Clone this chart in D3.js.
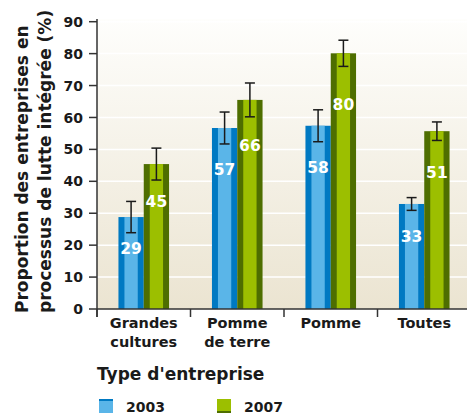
<!DOCTYPE html>
<html><head><meta charset="utf-8">
<script src="https://cdn.jsdelivr.net/npm/d3@7"></script>
<style>
html,body{margin:0;padding:0;background:#fff;}
text{font-family:"DejaVu Sans",Verdana,sans-serif;font-weight:bold;}
</style></head>
<body><svg id="c" width="467" height="415"></svg>
<script>
const categories = [["Grandes","cultures"],["Pomme","de terre"],["Pomme"],["Toutes"]];
const series = ["2003","2007"];
const values2003 = [28.8, 56.7, 57.4, 32.9];
const values2007 = [45.4, 65.5, 80.1, 55.7];
const errors2003 = [4.9, 5.0, 5.0, 2.0];
const errors2007 = [5.0, 5.3, 4.1, 2.9];
const labels2003 = ["29","57","58","33"];
const labels2007 = ["45","66","80","51"];
const yTicks = [0,10,20,30,40,50,60,70,80,90];

const svg = d3.select("#c");
const x0 = 97, x1 = 471, yTop = 21.7, yBot = 309;
const y = d3.scaleLinear().domain([0,90]).range([yBot, yTop]);
const x = d3.scaleBand().domain(d3.range(categories.length)).range([x0, x1]).padding(0);
const barW = 25.3;

// background gradient
const defs = svg.append("defs");
const g = defs.append("linearGradient").attr("id","bg").attr("x1",0).attr("y1",0).attr("x2",0).attr("y2",1);
g.append("stop").attr("offset","0%").attr("stop-color","#fefefc");
g.append("stop").attr("offset","100%").attr("stop-color","#ebe4d1");
svg.append("rect").attr("x",x0).attr("y",19).attr("width",467-x0).attr("height",yBot-19).attr("fill","url(#bg)");

// gridlines
svg.append("g").selectAll("line").data(yTicks.filter(d=>d>0)).join("line")
  .attr("x1",x0).attr("x2",467).attr("y1",d=>y(d)).attr("y2",d=>y(d))
  .attr("stroke","#ffffff").attr("stroke-width",1.5);

const sets = [
  {vals:values2003, errs:errors2003, labs:labels2003, dark:"#0079c2", light:"#5ab5e8", off:-barW},
  {vals:values2007, errs:errors2007, labs:labels2007, dark:"#4e6e00", light:"#9cbf00", off:0}
];
sets.forEach(s=>{
  const gg = svg.append("g");
  s.vals.forEach((v,i)=>{
    const cx = x(i) + x.bandwidth()/2 + s.off;
    gg.append("rect").attr("x",cx).attr("y",y(v)).attr("width",barW).attr("height",yBot-y(v)).attr("fill",s.dark);
    gg.append("rect").attr("x",cx+6).attr("y",y(v)).attr("width",barW-12).attr("height",yBot-y(v)).attr("fill",s.light);
    const mx = cx + barW/2;
    const e = s.errs[i];
    gg.append("line").attr("x1",mx).attr("x2",mx).attr("y1",y(v+e)).attr("y2",y(v-e)).attr("stroke","#1a1a1a").attr("stroke-width",1.5);
    [v+e, v-e].forEach(t=>gg.append("line").attr("x1",mx-5).attr("x2",mx+5).attr("y1",y(t)).attr("y2",y(t)).attr("stroke","#1a1a1a").attr("stroke-width",1.5));
    const h = yBot - y(v);
    gg.append("text").attr("x",mx).attr("y",y(v)+20+0.12*h).attr("dy","0.36em")
      .attr("text-anchor","middle").attr("fill","#fff").attr("font-size",15.5).text(s.labs[i]);
  });
});

// y axis
const ya = svg.append("g");
ya.append("line").attr("x1",x0).attr("x2",x0).attr("y1",19).attr("y2",317).attr("stroke","#333").attr("stroke-width",1.5);
ya.selectAll("line.t").data(yTicks).join("line").attr("class","t")
  .attr("x1",x0-8).attr("x2",x0).attr("y1",d=>y(d)).attr("y2",d=>y(d)).attr("stroke","#333").attr("stroke-width",1.5);
ya.selectAll("text").data(yTicks).join("text")
  .attr("x",83).attr("y",d=>y(d)).attr("dy","0.36em").attr("text-anchor","end")
  .attr("font-size",14).attr("fill","#1a1a1a").text(d=>d);

// x axis
const xa = svg.append("g");
xa.append("line").attr("x1",x0).attr("x2",467).attr("y1",yBot).attr("y2",yBot).attr("stroke","#333").attr("stroke-width",1.5);
xa.selectAll("line.t").data(d3.range(categories.length)).join("line").attr("class","t")
  .attr("x1",d=>x(d)).attr("x2",d=>x(d)).attr("y1",yBot).attr("y2",317).attr("stroke","#333").attr("stroke-width",1.5);
categories.forEach((c,i)=>{
  c.forEach((line,j)=>{
    xa.append("text").attr("x",x(i)+x.bandwidth()/2).attr("y",328+j*18.5)
      .attr("text-anchor","middle").attr("font-size",14.5).attr("fill","#1a1a1a").text(line);
  });
});

// y title
const yt = svg.append("g").attr("transform","translate(0,313) rotate(-90)");
yt.append("text").attr("x",0).attr("y",27.5).attr("font-size",17).attr("fill","#1a1a1a").text("Proportion des entreprises en");
yt.append("text").attr("x",0).attr("y",50.5).attr("font-size",17).attr("fill","#1a1a1a").text("processus de lutte intégrée (%)");

// legend
svg.append("text").attr("x",97).attr("y",380).attr("font-size",17).attr("fill","#1a1a1a").text("Type d'entreprise");
const legX = [99, 217];
sets.forEach((s,i)=>{
  const lg = svg.append("g");
  lg.append("rect").attr("x",legX[i]).attr("y",399).attr("width",14).attr("height",14).attr("fill",s.light);
  lg.append("rect").attr("x",legX[i]).attr("y", i===0?399:411).attr("width",14).attr("height",2).attr("fill",s.dark);
  lg.append("text").attr("x",legX[i]+27).attr("y",412).attr("font-size",14).attr("fill","#1a1a1a").text(series[i]);
});
</script></body></html>
